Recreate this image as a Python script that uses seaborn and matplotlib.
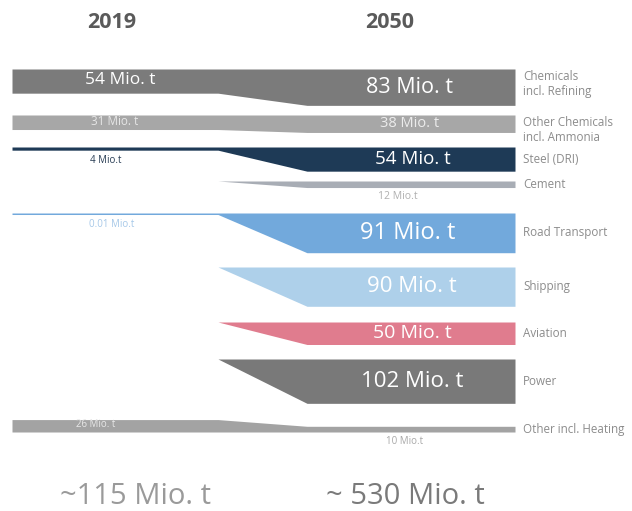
import matplotlib
matplotlib.use("Agg")
import matplotlib.pyplot as plt
import seaborn as sns
import pandas as pd

# Hydrogen demand by sector, million tonnes
sectors = ["Chemicals\nincl. Refining", "Other Chemicals\nincl. Ammonia", "Steel (DRI)",
           "Cement", "Road Transport", "Shipping", "Aviation", "Power",
           "Other incl. Heating"]
demand_2019 = [54, 31, 4, None, 0.01, None, None, None, 26]
demand_2050 = [83, 38, 54, 12, 91, 90, 50, 102, 10]
labels_2019 = ["54 Mio. t", "31 Mio. t", "4 Mio.t", None, "0.01 Mio.t", None, None, None, "26 Mio. t"]
labels_2050 = ["83 Mio. t", "38 Mio. t", "54 Mio. t", "12 Mio.t", "91 Mio. t", "90 Mio. t",
               "50 Mio. t", "102 Mio. t", "10 Mio.t"]
years = ["2019", "2050"]
totals = ["~115 Mio. t", "~ 530 Mio. t"]

df = pd.DataFrame({"sector": sectors, "v2019": demand_2019, "v2050": demand_2050,
                   "lab2019": labels_2019, "lab2050": labels_2050})

# ---- styling / layout -------------------------------------------------------
sns.set_theme(style="white")
plt.rcParams["font.family"] = ["Open Sans", "DejaVu Sans"]

colors = ["#7b7b7b", "#a7a7a7", "#1e3a56", "#a8adb5", "#72a9dc", "#aed0ea",
          "#e07c8e", "#797979", "#a3a3a3"]
row_anchor = [69, 115, 147, 181, 213, 267, 322, 359, 432]
anchor_side = ["top"] * 8 + ["bottom"]
x_start, x_bend0, x_bend1, x_end = 12, 218, 307, 515

# label styling: (size, colour, inside bar?)
lab19_style = [(12.5, "white", True), (8.5, "#e6e6e6", True), (7, "#2a3e55", False), None,
               (7, "#a6c8e8", False), None, None, None, (7, "#e8e8e8", True)]
lab50_style = [(15.5, "white", True), (10.5, "#ececec", True), (13.5, "white", True),
               (7.5, "#b0b0b0", False), (17, "white", True), (16, "white", True),
               (14, "white", True), (16, "white", True), (7, "#a8a8a8", False)]
lab19_x = [120, 115, 106, None, 112, None, None, None, 96]
lab50_x = [410, 410, 413, 398, 408, 412, 412, 412, 405]


def thickness(v):
    return 1.5 + 0.42 * v


fig = plt.figure(figsize=(6.32, 5.11), dpi=100)
ax = fig.add_axes([0, 0, 1, 1])
ax.set_xlim(0, 632)
ax.set_ylim(511, 0)
ax.axis("off")

for i, row in df.iterrows():
    h50 = thickness(row.v2050)
    has19 = pd.notna(row.v2019)
    h19 = thickness(row.v2019) if has19 else 0.0
    if has19:
        xs = [x_start, x_bend0, x_bend1, x_end]
        hs = [h19, h19, h50, h50]
    else:
        xs = [x_bend0, x_bend1, x_end]
        hs = [0.0, h50, h50]
    a = row_anchor[i]
    if anchor_side[i] == "top":
        y1 = [a] * len(xs)
        y2 = [a + h for h in hs]
    else:
        y1 = [a - h for h in hs]
        y2 = [a] * len(xs)
    ax.fill_between(xs, y1, y2, color=colors[i], linewidth=0)

    # value labels
    if anchor_side[i] == "top":
        top50, bot50 = a, a + h50
        top19, bot19 = a, a + h19
    else:
        top50, bot50 = a - h50, a
        top19, bot19 = a - h19, a
    size, col, inside = lab50_style[i]
    y = (top50 + bot50) / 2 if inside else bot50 + 9
    ax.text(lab50_x[i], y, row.lab2050, ha="center", va="center", fontsize=size, color=col)
    if has19 and lab19_style[i] is not None:
        size, col, inside = lab19_style[i]
        y = (top19 + bot19) / 2 - 1 if inside else bot19 + 10
        ax.text(lab19_x[i], y, row.lab2019, ha="center", va="center", fontsize=size,
                color=col)

    # sector name on the right
    ly = (top50 + bot50) / 2 if "\n" not in row.sector else top50 + 15
    ax.text(523, ly, row.sector, ha="left", va="center", fontsize=8.4,
            color="#8c8c8c", linespacing=1.2)

# year headings and totals
for x, yr, tot, tx, tcol in zip([112, 390], years, totals, [135, 405], ["#9a9a9a", "#7a7a7a"]):
    ax.text(x, 22, yr, ha="center", va="center", fontsize=15.5, fontweight="bold", color="#5a5a5a")
    ax.text(tx, 497, tot, ha="center", va="center", fontsize=21, color=tcol)

fig.savefig("out.png", dpi=100)
